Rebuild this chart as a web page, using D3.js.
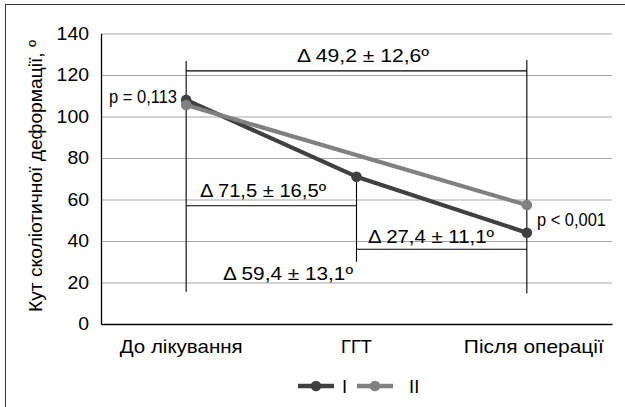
<!DOCTYPE html>
<html><head><meta charset="utf-8">
<script src="https://cdn.jsdelivr.net/npm/d3@7"></script>
<style>
html,body{margin:0;padding:0;background:#fff;}
svg text{font-family:"Liberation Sans",Arial,sans-serif;fill:#000;}
</style></head>
<body>
<svg id="chart" width="625" height="407"></svg>
<script>
// ---- data ----
const categories = ["До лікування", "ГГТ", "Після операції"];
const seriesNames = ["I", "II"];
const seriesI = [108, 71, 44];
const seriesII = [105.5, null, 57.3];
const yTicks = [0, 20, 40, 60, 80, 100, 120, 140];
const yTitle = "Кут сколіотичної деформації, º";
const pLabels = ["p = 0,113", "p < 0,001"];
const deltaLabels = ["Δ 49,2 ± 12,6º", "Δ 71,5 ± 16,5º", "Δ 27,4 ± 11,1º", "Δ 59,4 ± 13,1º"];

const colors = ["#404040", "#808080"];
const FS = 18.5;

const svg = d3.select("#chart");
// outer frame (only top & left visible in original)
svg.append("rect").attr("x", 5.5).attr("y", 4.5).attr("width", 700).attr("height", 500)
  .attr("fill", "none").attr("stroke", "#3a3a3a").attr("stroke-width", 1);

const L = 101, R = 612, T = 33.5, B = 324;
const x = d3.scaleBand().domain(categories).range([L, R]).padding(0);
const cx = c => x(c) + x.bandwidth() / 2;
const y = d3.scaleLinear().domain([0, 140]).range([B, T]);

// stretch a text node so its width matches the reference width
function fit(sel, w) {
  sel.attr("textLength", w).attr("lengthAdjust", "spacingAndGlyphs");
  return sel;
}
function txt(g, px, py, s, anchor, w) {
  const t = g.append("text")
    .attr("x", px).attr("y", py)
    .attr("text-anchor", anchor || "start")
    .style("font-size", FS + "px")
    .text(s);
  if (w) fit(t, w);
  return t;
}

// gridlines
const grid = svg.append("g").attr("transform", `translate(${L},0)`)
  .call(d3.axisLeft(y).tickValues(yTicks.filter(v => v > 0)).tickSize(-(R - L)).tickFormat(""));
grid.select(".domain").remove();
grid.selectAll("line").attr("stroke", "#a6a6a6").attr("stroke-width", 1.2);

// y axis
const ya = svg.append("g").attr("transform", `translate(${L},0)`)
  .call(d3.axisLeft(y).tickValues(yTicks).tickSize(0).tickPadding(12));
ya.select(".domain").attr("stroke", "#000").attr("stroke-width", 1.3);
ya.selectAll(".tick text").style("font-size", FS + "px").attr("fill", "#000")
  .each(function (d) { fit(d3.select(this), String(d).length * 10.8); });

// x axis
const xShift = [-5, 0, 7];
const xWidth = [123, 31, 140];
const xa = svg.append("g").attr("transform", `translate(0,${B})`)
  .call(d3.axisBottom(x).tickSize(0).tickPadding(16));
xa.select(".domain").attr("stroke", "#000").attr("stroke-width", 1.3);
xa.selectAll(".tick text").style("font-size", FS + "px").attr("fill", "#000")
  .each(function (d, i) { fit(d3.select(this), xWidth[i]).attr("x", xShift[i]); });

// y title
fit(svg.append("text")
  .attr("transform", `translate(42,176) rotate(-90)`)
  .attr("text-anchor", "middle")
  .style("font-size", FS + "px")
  .text(yTitle), 272);

// annotation brackets (black thin lines), in data coordinates
const ann = svg.append("g").attr("stroke", "#000").attr("stroke-width", 1.1).attr("fill", "none");
const c0 = cx(categories[0]), c1 = cx(categories[1]), c2 = cx(categories[2]);
function seg(x1, v1, x2, v2) {
  ann.append("line").attr("x1", x1).attr("y1", y(v1)).attr("x2", x2).attr("y2", y(v2));
}
seg(c0, 126.7, c0, 15.6);
seg(c2, 127.2, c2, 14.8);
seg(c0, 122, c2, 122);
seg(c0, 57, c1, 57);
seg(c1, seriesI[1], c1, 30);
seg(c1, 36, c2, 36);

// delta labels
const tg = svg.append("g");
txt(tg, 297, 62, deltaLabels[0], "start", 132);
txt(tg, 200, 197, deltaLabels[1], "start", 126);
txt(tg, 368, 243, deltaLabels[2], "start", 126);
txt(tg, 223, 279.5, deltaLabels[3], "start", 130);

// series lines
const series = [seriesI, seriesII];
const line = d3.line().x(d => cx(d.c)).y(d => y(d.v));
[0, 1].forEach(i => {
  const pts = categories.map((c, j) => ({ c, v: series[i][j] })).filter(d => d.v != null);
  svg.append("path").datum(pts).attr("d", line)
    .attr("fill", "none").attr("stroke", colors[i]).attr("stroke-width", 4.2)
    .attr("stroke-linejoin", "round");
  svg.append("g").selectAll("circle").data(pts).join("circle")
    .attr("cx", d => cx(d.c)).attr("cy", d => y(d.v)).attr("r", 5.3)
    .attr("fill", colors[i]);
});

// p labels
txt(svg, 109, 103, pLabels[0], "start", 68);
txt(svg, 537, 225.5, pLabels[1], "start", 69);

// legend
const lg = svg.append("g");
const legX = [298, 357], legText = [342, 409];
[0, 1].forEach(i => {
  lg.append("line").attr("x1", legX[i]).attr("x2", legX[i] + 36).attr("y1", 386).attr("y2", 386)
    .attr("stroke", colors[i]).attr("stroke-width", 4.5);
  lg.append("circle").attr("cx", legX[i] + 18).attr("cy", 386).attr("r", 5.3).attr("fill", colors[i]);
  txt(lg, legText[i], 393, seriesNames[i], "start");
});
</script>
</body></html>
